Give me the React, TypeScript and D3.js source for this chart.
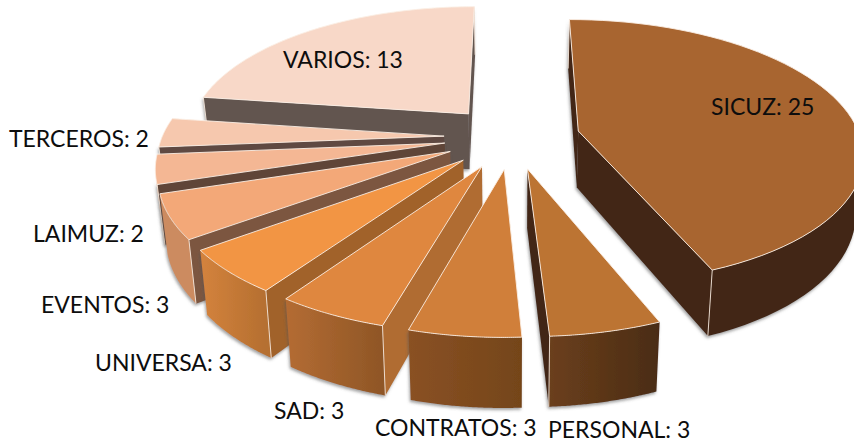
import * as d3 from 'd3';

const CATEGORIES = ['SICUZ', 'PERSONAL', 'CONTRATOS', 'SAD', 'UNIVERSA', 'EVENTOS', 'LAIMUZ', 'TERCEROS', 'VARIOS'];
const VALUES = [25, 3, 3, 3, 3, 3, 2, 2, 13];

const TOP_COLORS = ['#a86530', '#bc7433', '#d07f3a', '#df873f', '#f29544', '#f3a878', '#f4b794', '#f6c8ae', '#f8d8c8'];
const SIDE_COLORS = ['#432612', '#432612', '#8a5124', '#b06c30', '#a1622a', '#7c5640', '#5f4538', '#5f4a42', '#625450'];
const RIM_FROM = ['#432612', '#6b3f1c', '#8a5124', '#b46c33', '#d4833d', '#cc8b60', '#d09a78', '#d8a88c', '#625450'];
const RIM_TO = ['#432612', '#4a2c14', '#744519', '#8f5626', '#b56f30', '#cc8b60', '#d09a78', '#d8a88c', '#625450'];

// label spot in the picture, [x, baseline]
const LABEL_POS: Record<string, [number, number]> = {
  SICUZ: [711, 115],
  PERSONAL: [548, 438],
  CONTRATOS: [375, 436],
  SAD: [274, 419],
  UNIVERSA: [95, 371],
  EVENTOS: [41, 313],
  LAIMUZ: [33, 242],
  TERCEROS: [9, 147],
  VARIOS: [283, 68],
};

const WIDTH = 854;
const HEIGHT = 444;

// perspective set-up of the pie plane
const VP_X = 512;
const HORIZON = -703;
const PLANE = 840;
const DEPTH = 1815;
const RADIUS = 282;
const EXPLODE = 68;
const THICK = 57;
const BOTTOM_SHRINK = 0.978;

const depthScale = (v: number) => DEPTH / (DEPTH + v);
const xScale = d3.scaleLinear().domain([0, 1]).range([VP_X, VP_X + 1]);
const yScale = d3.scaleLinear().domain([0, 1]).range([HORIZON, HORIZON + PLANE]);

type P = [number, number];

function project(u: number, v: number, low = false): P {
  const s = depthScale(v);
  const x = xScale(u * s * (low ? BOTTOM_SHRINK : 1));
  const y = yScale(s) + (low ? THICK * s : 0);
  return [x, y];
}

const cross = (a: P, b: P, c: P) => (b[0] - a[0]) * (c[1] - b[1]) - (b[1] - a[1]) * (c[0] - b[0]);
const line = d3.line<P>();
const closed = (pts: P[]) => line(pts) + 'Z';

const pieData = d3.pie<number>().sort(null).value((d) => d)(VALUES);

const slices = pieData
  .map((d) => {
    const i = d.index;
    const mid = (d.startAngle + d.endAngle) / 2;
    const cu = EXPLODE * Math.sin(mid);
    const cv = EXPLODE * Math.cos(mid);
    const angles = d3.range(0, 61).map((k) => d.startAngle + ((d.endAngle - d.startAngle) * k) / 60);
    const at = (a: number, low = false) => project(cu + RADIUS * Math.sin(a), cv + RADIUS * Math.cos(a), low);
    const apexTop = project(cu, cv);
    const apexLow = project(cu, cv, true);
    const rimTop = angles.map((a) => at(a));
    const rimLow = angles.map((a) => at(a, true));
    const n = rimTop.length - 1;

    const startShown = cross(apexTop, rimTop[0], rimLow[0]) < 0;
    const endShown = cross(apexTop, rimTop[n], rimLow[n]) > 0;

    const shown = d3.range(0, n).filter((k) => cross(rimTop[k], rimTop[k + 1], rimLow[k + 1]) < 0);
    const rimTopShown = shown.length ? rimTop.slice(shown[0], shown[shown.length - 1] + 2) : [];
    const rimLowShown = shown.length ? rimLow.slice(shown[0], shown[shown.length - 1] + 2) : [];

    return {
      i,
      name: CATEGORIES[i],
      depth: Math.cos(mid),
      top: closed([apexTop, ...rimTop]),
      startWall: startShown ? closed([apexTop, rimTop[0], rimLow[0], apexLow]) : null,
      endWall: endShown ? closed([apexTop, rimTop[n], rimLow[n], apexLow]) : null,
      rim: rimTopShown.length ? closed([...rimTopShown, ...rimLowShown.slice().reverse()]) : null,
      rimX: rimTopShown.length ? d3.extent(rimTopShown, (p) => p[0]) : [0, 1],
      edges: [
        startShown ? line([rimTop[0], rimLow[0]]) : null,
        endShown ? line([rimTop[n], rimLow[n]]) : null,
      ].filter(Boolean) as string[],
    };
  })
  .sort((a, b) => d3.descending(a.depth, b.depth));

export default function App() {
  return (
    <svg
      width={WIDTH}
      height={HEIGHT}
      viewBox={`0 0 ${WIDTH} ${HEIGHT}`}
      style={{ position: 'absolute', left: 0, top: 0, display: 'block', background: '#fff' }}
    >
      <defs>
        <filter id="wallShadow" x="-10%" y="-10%" width="120%" height="120%">
          <feDropShadow dx={-1} dy={2} stdDeviation={1.4} floodColor="#555" floodOpacity={0.55} />
        </filter>
        {slices.map((s) => (
          <linearGradient
            key={s.i}
            id={`rim${s.i}`}
            gradientUnits="userSpaceOnUse"
            x1={s.rimX[0]}
            x2={s.rimX[1]}
            y1={0}
            y2={0}
          >
            <stop offset="0%" stopColor={RIM_FROM[s.i]} />
            <stop offset="100%" stopColor={RIM_TO[s.i]} />
          </linearGradient>
        ))}
      </defs>
      {slices.map((s) => (
        <g key={s.i}>
          <g filter="url(#wallShadow)">
            {s.startWall && <path d={s.startWall} fill={SIDE_COLORS[s.i]} />}
            {s.endWall && <path d={s.endWall} fill={SIDE_COLORS[s.i]} />}
            {s.rim && <path d={s.rim} fill={`url(#rim${s.i})`} />}
          </g>
          {s.edges.map((e, k) => (
            <path key={k} d={e} stroke="#f5e6da" strokeWidth={0.9} fill="none" />
          ))}
          <path d={s.top} fill={TOP_COLORS[s.i]} stroke="#fbeee4" strokeWidth={0.9} strokeLinejoin="round" />
        </g>
      ))}
      {CATEGORIES.map((c, i) => (
        <text
          key={c}
          x={LABEL_POS[c][0]}
          y={LABEL_POS[c][1]}
          fontFamily="Lato, sans-serif"
          fontSize={23}
          fill="#0d0d0d"
        >
          {`${c}: ${VALUES[i]}`}
        </text>
      ))}
    </svg>
  );
}
